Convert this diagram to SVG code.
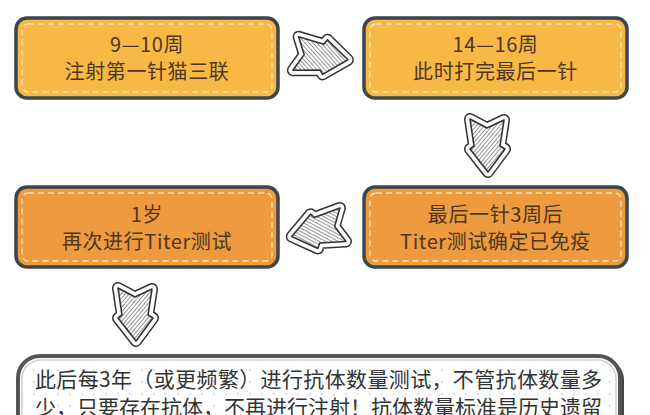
<svg xmlns="http://www.w3.org/2000/svg" width="650" height="415" viewBox="0 0 650 415">
<defs>
<pattern id="hatch" width="3" height="3" patternUnits="userSpaceOnUse" patternTransform="rotate(40)">
<line x1="0" y1="0" x2="0" y2="3" stroke="#3a3a3a" stroke-width="1.1"/>
</pattern>
<pattern id="dots" width="12" height="12" patternUnits="userSpaceOnUse" x="4" y="4">
<circle cx="6" cy="6" r="0.9" fill="#d6d6d6"/>
</pattern>
<path id="arr" d="M -17,-26 L 0,-17 L 17,-25 L 13,1 L 18,4 L 1,27 L -17,4 L -13,1 Z"/>
<g id="arrow">
<use href="#arr" fill="none" stroke="#333" stroke-width="12" stroke-linejoin="round"/>
<use href="#arr" fill="#fff" stroke="#fff" stroke-width="9" stroke-linejoin="round"/>
<use href="#arr" fill="url(#hatch)" stroke="#333" stroke-width="1.6" stroke-linejoin="round"/>
</g>
</defs>
<style>
.box{stroke:#3b474c;stroke-width:3.5}
.y{fill:#F8B845}
.o{fill:#EE9A3E}
.dash{fill:none;stroke:#fbe6b8;stroke-width:1.4;stroke-dasharray:6 4}
.t{font-family:"Noto Sans CJK SC","Noto Sans",sans-serif;font-size:20px;fill:#4e3620;text-anchor:middle;letter-spacing:0.6px}
.b{font-family:"Noto Sans CJK SC","Noto Sans",sans-serif;font-size:21px;fill:#333}
</style>
<rect width="650" height="415" fill="#fff"/>
<g id="connectors">
<use href="#arrow" transform="translate(321,57) rotate(-82)"/>
<use href="#arrow" transform="translate(487,145)"/>
<use href="#arrow" transform="translate(318,230) rotate(78)"/>
<use href="#arrow" transform="translate(135,314)"/>
</g>
<g id="n1">
<rect class="box y" x="16" y="18" width="262" height="80" rx="11"/>
<rect class="dash" x="22" y="24" width="250" height="68" rx="6"/>
<text class="t" x="147" y="52">9—10周</text>
<text class="t" x="147" y="79">注射第一针猫三联</text>
</g>
<g id="n2">
<rect class="box y" x="364" y="18" width="263" height="80" rx="11"/>
<rect class="dash" x="370" y="24" width="251" height="68" rx="6"/>
<text class="t" x="495.5" y="52">14—16周</text>
<text class="t" x="495.5" y="79">此时打完最后一针</text>
</g>
<g id="n3">
<rect class="box o" x="16" y="187" width="262" height="80" rx="11"/>
<rect class="dash" x="22" y="193" width="250" height="68" rx="6"/>
<text class="t" x="147" y="222">1岁</text>
<text class="t" x="147" y="249">再次进行Titer测试</text>
</g>
<g id="n4">
<rect class="box o" x="364" y="187" width="263" height="80" rx="11"/>
<rect class="dash" x="370" y="193" width="251" height="68" rx="6"/>
<text class="t" x="495.5" y="222">最后一针3周后</text>
<text class="t" x="495.5" y="249">Titer测试确定已免疫</text>
</g>
<g id="n5">
<rect x="21" y="358" width="603" height="90" rx="22" fill="#444"/>
<rect x="18" y="356" width="602" height="90" rx="22" fill="#fff" stroke="#555" stroke-width="4"/>
<rect x="22" y="360" width="594" height="82" rx="19" fill="url(#dots)" stroke="#cfcfcf" stroke-width="1.5"/>
<text class="b" x="35" y="387" textLength="567" lengthAdjust="spacing">此后每3年（或更频繁）进行抗体数量测试，不管抗体数量多</text>
<text class="b" x="35" y="415" textLength="567" lengthAdjust="spacing">少，只要存在抗体，不再进行注射！抗体数量标准是历史遗留</text>
</g>
</svg>
